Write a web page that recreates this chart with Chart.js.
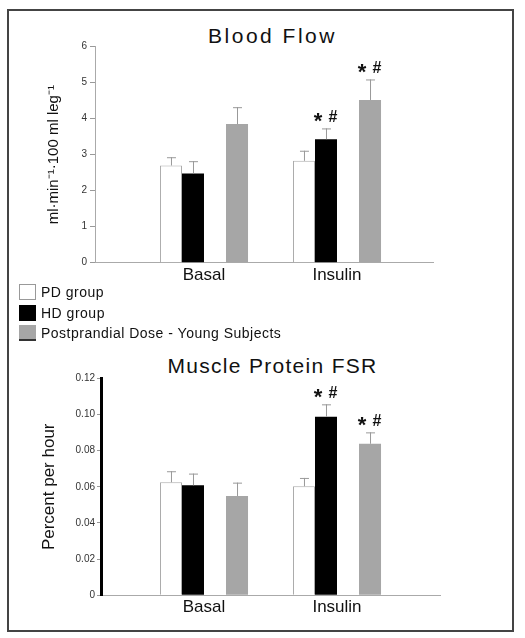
<!DOCTYPE html>
<html>
<head>
<meta charset="utf-8">
<script src="https://cdn.jsdelivr.net/npm/chart.js"></script>
<style>
  body { margin: 0; background: #fff; font-family: "Liberation Sans", Arial, sans-serif; overflow: hidden; }
  .frame { position: absolute; left: 7px; top: 9px; width: 507px; height: 623px; border: 2px solid #444; box-sizing: border-box; }
  .title { position: absolute; left: 0; width: 545px; text-align: center; font-size: 21px; line-height: 1; color: #111; white-space: nowrap; }
  canvas { position: absolute; left: 0; }
  .legend { position: absolute; left: 19px; top: 284px; font-size: 14px; letter-spacing: 0.5px; color: #111; }
  .legend .row { display: flex; align-items: center; height: 16px; margin-bottom: 4.7px; }
  .legend .box { width: 17px; height: 16px; box-sizing: border-box; margin-right: 5px; }
</style>
</head>
<body>
<div class="frame"></div>
<div class="title" style="top:25px; letter-spacing:2.5px;">Blood Flow</div>
<canvas id="flowChart" width="525" height="300" style="top:0;width:525px;height:300px;"></canvas>
<div class="title" style="top:355px; letter-spacing:1.3px;">Muscle Protein FSR</div>
<canvas id="fsrChart" width="525" height="280" style="top:345px;width:525px;height:280px;"></canvas>
<div class="legend" id="legend"></div>
<script>
// Categories and series
const categories = ['Basal', 'Insulin'];
const seriesNames = ['PD group', 'HD group', 'Postprandial Dose - Young Subjects'];
const seriesColors = ['#ffffff', '#000000', '#a6a6a6'];

// Blood flow (ml·min-1·100 ml leg-1)
const flowPD = [2.70, 2.83];
const flowPDErr = [0.23, 0.28];
const flowHD = [2.48, 3.43];
const flowHDErr = [0.34, 0.30];
const flowYoung = [3.85, 4.52];
const flowYoungErr = [0.47, 0.57];
const flowHDMarks = ['', '* #'];
const flowYoungMarks = ['', '* #'];
const flowTicks = ['0', '1', '2', '3', '4', '5', '6'];

// Muscle protein FSR (percent per hour)
const fsrPD = [0.0625, 0.0603];
const fsrPDErr = [0.0061, 0.0046];
const fsrHD = [0.0608, 0.0988];
const fsrHDErr = [0.0065, 0.0068];
const fsrYoung = [0.0549, 0.0838];
const fsrYoungErr = [0.0074, 0.0063];
const fsrHDMarks = ['', '* #'];
const fsrYoungMarks = ['', '* #'];
const fsrTicks = ['0', '0.02', '0.04', '0.06', '0.08', '0.10', '0.12'];

Chart.defaults.font.family = '"Liberation Sans", Arial, sans-serif';

function toPoints(values) {
  return values.map((v, i) => ({ x: i + 1, y: v }));
}

// Error bars and significance marks, drawn on top of the bars
const errorBars = {
  id: 'errorBars',
  afterDatasetsDraw(chart) {
    const ctx = chart.ctx;
    const yScale = chart.scales.y;
    chart.data.datasets.forEach((ds, i) => {
      if (!ds.errors) return;
      const meta = chart.getDatasetMeta(i);
      meta.data.forEach((bar, j) => {
        const top = yScale.getPixelForValue(ds.data[j].y + ds.errors[j]);
        ctx.save();
        ctx.strokeStyle = '#999';
        ctx.lineWidth = 1;
        ctx.beginPath();
        ctx.moveTo(bar.x + 0.5, bar.y);
        ctx.lineTo(bar.x + 0.5, top);
        ctx.moveTo(bar.x - 4, top + 0.5);
        ctx.lineTo(bar.x + 5, top + 0.5);
        ctx.stroke();

        const mark = ds.marks && ds.marks[j];
        if (mark) {
          ctx.fillStyle = '#111';
          ctx.textAlign = 'center';
          ctx.textBaseline = 'alphabetic';
          ctx.font = 'bold 22px "Liberation Sans", Arial, sans-serif';
          ctx.fillText('*', bar.x - 8, top);
          ctx.font = 'bold 16px "Liberation Sans", Arial, sans-serif';
          ctx.fillText('#', bar.x + 7, top - 6);
        }
        ctx.restore();
      });
    });
  }
};

function makeDatasets(pd, pdErr, hd, hdErr, hdMarks, young, youngErr, youngMarks) {
  const common = { categoryPercentage: 0.662, barPercentage: 1.0 };
  return [
    { label: seriesNames[0], data: toPoints(pd), errors: pdErr, backgroundColor: seriesColors[0], borderColor: '#aaa', borderWidth: 1, ...common },
    { label: seriesNames[1], data: toPoints(hd), errors: hdErr, marks: hdMarks, backgroundColor: seriesColors[1], ...common },
    // empty slot between HD and the young subjects bar
    { label: '', data: toPoints(categories.map(() => null)), ...common },
    { label: seriesNames[2], data: toPoints(young), errors: youngErr, marks: youngMarks, backgroundColor: seriesColors[2], ...common }
  ];
}

function makeOptions(cfg) {
  return {
    responsive: false,
    animation: false,
    layout: { padding: { top: cfg.padTop, right: cfg.padRight, left: 0, bottom: 0 } },
    plugins: { legend: { display: false }, tooltip: { enabled: false } },
    scales: {
      x: {
        type: 'linear',
        offset: false,
        min: cfg.xMin,
        max: cfg.xMax,
        afterBuildTicks: s => { s.ticks = categories.map((c, i) => ({ value: i + 1 })); },
        ticks: { callback: v => categories[v - 1], font: { size: 17 }, color: '#111', padding: 2, maxRotation: 0 },
        grid: { display: false, drawTicks: false },
        border: { color: '#aaa', width: 1 },
        afterFit: s => { s.height = cfg.xHeight; }
      },
      y: {
        min: 0,
        max: cfg.yMax,
        ticks: { stepSize: cfg.yStep, callback: (v, i) => cfg.tickLabels[i], font: { size: 10 }, color: '#333', padding: cfg.tickPad },
        grid: { drawOnChartArea: false, tickLength: cfg.tickLen, color: '#999' },
        border: { color: cfg.axisColor, width: cfg.axisWidth },
        title: { display: true, text: cfg.yTitle, font: { size: cfg.yTitleSize }, color: '#111', padding: { top: cfg.yTitlePad, bottom: 0 } },
        afterFit: s => { s.width = cfg.yWidth; }
      }
    }
  };
}

new Chart(document.getElementById('flowChart'), {
  type: 'bar',
  data: { datasets: makeDatasets(flowPD, flowPDErr, flowHD, flowHDErr, flowHDMarks, flowYoung, flowYoungErr, flowYoungMarks) },
  options: makeOptions({
    padTop: 46.7, padRight: 92, xMin: 0.1805, xMax: 2.7218, xHeight: 37.3,
    yMax: 6, yStep: 1, tickLabels: flowTicks, tickPad: 3, tickLen: 5,
    axisColor: '#aaa', axisWidth: 1,
    yTitle: 'ml·min⁻¹·100 ml leg⁻¹', yTitleSize: 15, yTitlePad: 45, yWidth: 95
  }),
  plugins: [errorBars]
});

new Chart(document.getElementById('fsrChart'), {
  type: 'bar',
  data: { datasets: makeDatasets(fsrPD, fsrPDErr, fsrHD, fsrHDErr, fsrHDMarks, fsrYoung, fsrYoungErr, fsrYoungMarks) },
  options: makeOptions({
    padTop: 33.3, padRight: 85, xMin: 0.2256, xMax: 2.7744, xHeight: 29.7,
    yMax: 0.12, yStep: 0.02, tickLabels: fsrTicks, tickPad: 2, tickLen: 4,
    axisColor: '#000', axisWidth: 3,
    yTitle: 'Percent per hour', yTitleSize: 17, yTitlePad: 39, yWidth: 101
  }),
  plugins: [errorBars]
});

// Shared legend
const legend = document.getElementById('legend');
seriesNames.forEach((name, i) => {
  const row = document.createElement('div');
  row.className = 'row';
  const box = document.createElement('span');
  box.className = 'box';
  box.style.background = seriesColors[i];
  if (i === 0) box.style.border = '1px solid #999';
  if (i === 2) box.style.borderBottom = '2px solid #333';
  row.appendChild(box);
  row.appendChild(document.createTextNode(name));
  legend.appendChild(row);
});
</script>
</body>
</html>
